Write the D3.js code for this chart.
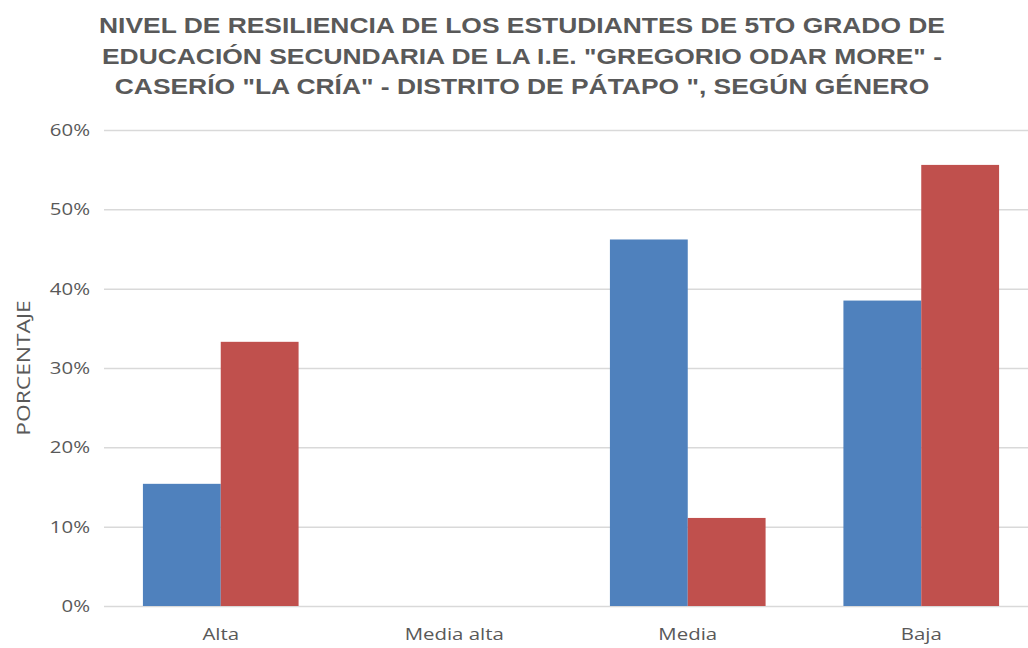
<!DOCTYPE html>
<html lang="es">
<head>
<meta charset="UTF-8">
<title>Nivel de resiliencia según género</title>
<script src="https://cdn.jsdelivr.net/npm/d3@7"></script>
<style>
body { margin: 0; background: #fff; }
text { font-family: "Open Sans", "Noto Sans", sans-serif; fill: #595959; }
.title { font-family: "Liberation Sans", Arial, sans-serif; font-weight: bold; font-size: 22px; }
.tick text { font-size: 17px; }
.grid line { stroke: #d9d9d9; stroke-width: 1.5px; }
.grid path { display: none; }
</style>
</head>
<body>
<div id="chart"></div>
<script>
const categories = ["Alta", "Media alta", "Media", "Baja"];
const serieAzul = [15.4, 0, 46.2, 38.5];
const serieRoja = [33.3, 0, 11.1, 55.6];
const yTicks = [0, 10, 20, 30, 40, 50, 60];
const titleLines = [
    "NIVEL DE RESILIENCIA DE LOS ESTUDIANTES DE 5TO GRADO DE",
    "EDUCACIÓN SECUNDARIA DE LA I.E. \"GREGORIO ODAR MORE\" -",
    "CASERÍO \"LA CRÍA\" - DISTRITO DE PÁTAPO \", SEGÚN GÉNERO"
];

const width = 1028;
const height = 648;
const plot = {left: 104, right: 1038, top: 130, bottom: 606};
// the original picture is a bit wider than tall, so text is stretched sideways
const stretch = 1.2;

const svg = d3.select("#chart")
    .append("svg")
        .attr("width", width)
        .attr("height", height);

const x = d3.scaleBand()
    .domain(categories)
    .range([plot.left, plot.right])
    .paddingInner(1 / 3)
    .paddingOuter(1 / 6);

const x1 = d3.scaleBand()
    .domain(["azul", "roja"])
    .range([0, x.bandwidth()]);

const y = d3.scaleLinear()
    .domain([0, 60])
    .range([plot.bottom, plot.top]);

// grid lines
svg.append("g")
    .attr("class", "grid")
    .attr("transform", `translate(${plot.left},0)`)
    .call(d3.axisRight(y).tickValues(yTicks).tickSize(width - plot.left).tickFormat(""));

// y labels
svg.append("g")
    .attr("transform", `translate(${plot.left},0)`)
    .call(d3.axisLeft(y).tickValues(yTicks).tickSize(0).tickPadding(14).tickFormat(d => d + "%"))
    .call(g => g.select(".domain").remove());

// x labels
svg.append("g")
    .attr("transform", `translate(0,${plot.bottom})`)
    .call(d3.axisBottom(x).tickSize(0).tickPadding(22))
    .call(g => g.select(".domain").remove());

const rows = categories.map((c, i) => ({cat: c, azul: serieAzul[i], roja: serieRoja[i]}));

const group = svg.append("g")
    .selectAll("g")
    .data(rows)
    .join("g")
        .attr("transform", d => `translate(${x(d.cat)},0)`);

group.selectAll("rect")
    .data(d => [{k: "azul", v: d.azul}, {k: "roja", v: d.roja}])
    .join("rect")
        .attr("x", d => x1(d.k))
        .attr("y", d => y(d.v))
        .attr("width", x1.bandwidth())
        .attr("height", d => plot.bottom - y(d.v))
        .attr("fill", d => d.k === "azul" ? "#4f81bd" : "#c0504d");

// axis title
svg.append("text")
    .attr("transform", `translate(30,${(plot.top + plot.bottom) / 2}) rotate(-90)`)
    .attr("text-anchor", "middle")
    .style("font-size", "19px")
    .text("PORCENTAJE");

// chart title
svg.append("g")
    .selectAll("text")
    .data(titleLines)
    .join("text")
        .attr("class", "title")
        .attr("x", 522)
        .attr("y", (d, i) => 33 + i * 30.5)
        .attr("text-anchor", "middle")
        .text(d => d);

// widen every label the same way
svg.selectAll("text").each(function() {
    const w = this.getComputedTextLength();
    if (w > 0) {
        d3.select(this)
            .attr("textLength", w * stretch)
            .attr("lengthAdjust", "spacingAndGlyphs");
    }
});
</script>
</body>
</html>
